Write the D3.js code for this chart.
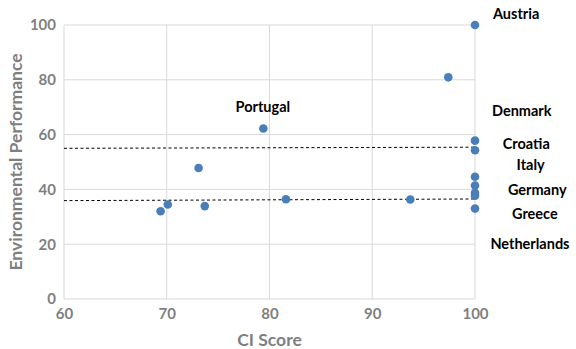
<!DOCTYPE html>
<html><head><meta charset="utf-8">
<script src="https://cdn.jsdelivr.net/npm/d3@7"></script>
<style>body{margin:0;background:#fff}svg{display:block}</style>
</head><body><svg id="c" width="576" height="349"></svg>
<script>
const ciScore = [100, 97.4, 79.4, 73.1, 69.4, 70.1, 73.7, 81.6, 93.7, 100, 100, 100, 100, 100, 100, 100];
const envPerf = [100, 80.9, 62.2, 47.8, 32.0, 34.5, 33.9, 36.4, 36.3, 57.8, 54.3, 44.6, 41.4, 38.8, 37.7, 33.0];
const labelNames = ["Austria", "Denmark", "Croatia", "Italy", "Germany", "Greece", "Netherlands", "Portugal"];
const labelX = [101.75, 101.65, 102.7, 104.05, 103.2, 103.6, 101.5, 76.7];
const labelY = [104, 68.7, 56.6, 48.9, 39.8, 31.1, 20.1, 70];
const xTicks = [60, 70, 80, 90, 100];
const yTicks = [0, 20, 40, 60, 80, 100];
const refLines = [[55.0, 55.4], [35.9, 36.5]];

const svg = d3.select("#c");
const x = d3.scaleLinear().domain([60, 100]).range([64, 475]);
const y = d3.scaleLinear().domain([0, 100]).range([299, 25]);
const font = "Lato, 'Open Sans', sans-serif";

// gridlines
svg.append("g").selectAll("line").data(yTicks).join("line")
  .attr("x1", x(60)).attr("x2", x(100)).attr("y1", d => y(d)).attr("y2", d => y(d))
  .attr("stroke", "#d9d9d9").attr("stroke-width", 1);
svg.append("g").selectAll("line").data(xTicks).join("line")
  .attr("y1", y(0)).attr("y2", y(100)).attr("x1", d => x(d)).attr("x2", d => x(d))
  .attr("stroke", "#d9d9d9").attr("stroke-width", 1);

// axes
const xAxis = svg.append("g").attr("transform", `translate(0,${y(0)})`)
  .call(d3.axisBottom(x).tickValues(xTicks).tickSize(0).tickPadding(9));
const yAxis = svg.append("g").attr("transform", `translate(${x(60)},0)`)
  .call(d3.axisLeft(y).tickValues(yTicks).tickSize(0).tickPadding(8));
[xAxis, yAxis].forEach(a => {
  a.select(".domain").remove();
  a.selectAll("text").attr("fill", "#7f7f7f").style("font-family", font)
    .style("font-size", "15px").style("font-weight", "bold");
});

// reference dashed lines
svg.append("g").selectAll("line").data(refLines).join("line")
  .attr("x1", x(60)).attr("x2", x(100))
  .attr("y1", d => y(d[0])).attr("y2", d => y(d[1]))
  .attr("stroke", "#000").attr("stroke-width", 1).attr("stroke-dasharray", "3,2.5");

// points
svg.append("g").selectAll("circle").data(ciScore.map((c, i) => [c, envPerf[i]])).join("circle")
  .attr("cx", d => x(d[0])).attr("cy", d => y(d[1])).attr("r", 4.3)
  .attr("fill", "#4a7ebb");

// labels
svg.append("g").selectAll("text").data(labelNames).join("text")
  .attr("x", (d, i) => x(labelX[i]))
  .attr("y", (d, i) => y(labelY[i]))
  .attr("dy", "0.35em")
  .attr("fill", "#000").style("font-family", font).style("font-size", "14.5px").style("font-weight", "bold")
  .text(d => d);

// axis titles
svg.append("text").attr("x", (x(60) + x(100)) / 2).attr("y", 340).attr("dy", "0.35em")
  .attr("text-anchor", "middle").attr("fill", "#7f7f7f")
  .style("font-family", font).style("font-size", "17.5px").style("font-weight", "bold").text("CI Score");
svg.append("text").attr("transform", `translate(16,${(y(0) + y(100)) / 2}) rotate(-90)`).attr("dy", "0.35em")
  .attr("text-anchor", "middle").attr("fill", "#7f7f7f")
  .style("font-family", font).style("font-size", "17.5px").style("font-weight", "bold").text("Environmental Performance");
</script></body></html>
